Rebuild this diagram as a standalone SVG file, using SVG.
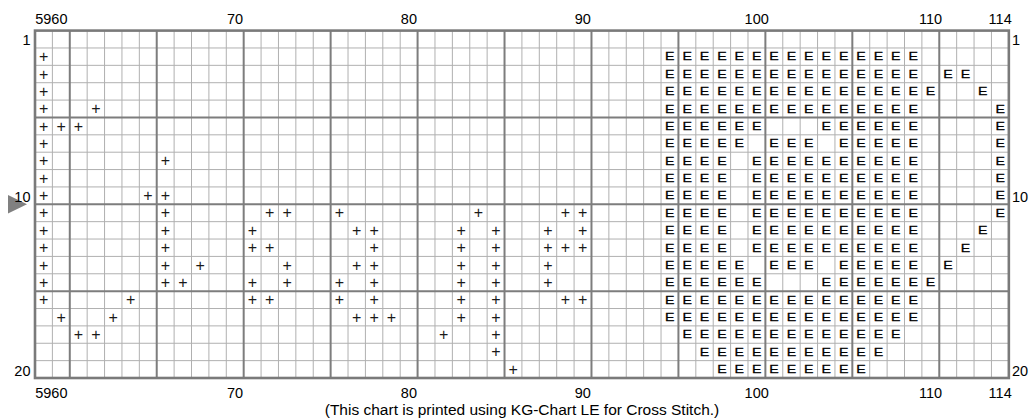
<svg xmlns="http://www.w3.org/2000/svg" width="1030" height="418" viewBox="0 0 1030 418">
<style>
.thin{stroke:#b0b0b0;stroke-width:1;fill:none}
.thick{stroke:#7d7d7d;stroke-width:2;fill:none}
.border{stroke:#7a7a7a;stroke-width:2.6;fill:none}
.lbl{font-family:"Liberation Sans",Arial,sans-serif;font-size:14.5px;fill:#000}
.mid{text-anchor:middle}
.end{text-anchor:end}
.plus{font-family:"Liberation Sans",Arial,sans-serif;font-size:16px;fill:#1a1a1a;text-anchor:middle}
.e{font-family:"Liberation Sans",Arial,sans-serif;font-size:10.5px;fill:#000;stroke:#000;stroke-width:0.25;text-anchor:middle}
.cap{font-family:"Liberation Sans",Arial,sans-serif;font-size:15.5px;fill:#000;text-anchor:middle}
</style>
<rect width="1030" height="418" fill="#fff"/>
<g id="grid">
<path class="thin" d="M52.39 30.6V378M87.17 30.6V378M104.56 30.6V378M121.95 30.6V378M139.34 30.6V378M174.12 30.6V378M191.51 30.6V378M208.9 30.6V378M226.29 30.6V378M261.07 30.6V378M278.46 30.6V378M295.85 30.6V378M313.24 30.6V378M348.02 30.6V378M365.41 30.6V378M382.8 30.6V378M400.19 30.6V378M434.97 30.6V378M452.36 30.6V378M469.75 30.6V378M487.14 30.6V378M521.92 30.6V378M539.31 30.6V378M556.7 30.6V378M574.09 30.6V378M608.87 30.6V378M626.26 30.6V378M643.65 30.6V378M661.04 30.6V378M695.82 30.6V378M713.21 30.6V378M730.6 30.6V378M747.99 30.6V378M782.77 30.6V378M800.16 30.6V378M817.55 30.6V378M834.94 30.6V378M869.72 30.6V378M887.11 30.6V378M904.5 30.6V378M921.89 30.6V378M956.67 30.6V378M974.06 30.6V378M991.45 30.6V378
M35 47.97H1008.84M35 65.34H1008.84M35 82.71H1008.84M35 100.08H1008.84M35 134.82H1008.84M35 152.19H1008.84M35 169.56H1008.84M35 186.93H1008.84M35 221.67H1008.84M35 239.04H1008.84M35 256.41H1008.84M35 273.78H1008.84M35 308.52H1008.84M35 325.89H1008.84M35 343.26H1008.84M35 360.63H1008.84"/>
<path class="thick" d="M69.78 30.6V378M156.73 30.6V378M243.68 30.6V378M330.63 30.6V378M417.58 30.6V378M504.53 30.6V378M591.48 30.6V378M678.43 30.6V378M765.38 30.6V378M852.33 30.6V378M939.28 30.6V378M35 117.45H1008.84M35 204.3H1008.84M35 291.15H1008.84"/>
<rect class="border" x="35" y="30.6" width="973.84" height="347.4"/>
</g>
<g id="plus-symbols" class="plus">
<text x="43.7" y="62.16">+</text>
<text x="43.7" y="79.53">+</text>
<text x="43.7" y="96.9">+</text>
<text x="43.7 95.86" y="114.27">++</text>
<text x="43.7 61.08 78.47" y="131.64">+++</text>
<text x="43.7" y="149.01">+</text>
<text x="43.7 165.42" y="166.38">++</text>
<text x="43.7" y="183.75">+</text>
<text x="43.7 148.03 165.42" y="201.12">+++</text>
<text x="43.7 165.42 269.77 287.16 339.33 478.45 565.4 582.79" y="218.49">++++++++</text>
<text x="43.7 165.42 252.38 356.72 374.11 461.06 495.84 548.01 582.79" y="235.86">+++++++++</text>
<text x="43.7 165.42 252.38 269.77 374.11 461.06 495.84 548.01 565.4 582.79" y="253.23">++++++++++</text>
<text x="43.7 165.42 200.2 287.16 356.72 374.11 461.06 495.84 548.01" y="270.6">+++++++++</text>
<text x="43.7 165.42 182.81 252.38 287.16 339.33 374.11 461.06 495.84 548.01" y="287.97">++++++++++</text>
<text x="43.7 130.64 252.38 269.77 339.33 374.11 461.06 495.84 565.4 582.79" y="305.34">++++++++++</text>
<text x="61.08 113.25 356.72 374.11 391.5 461.06 495.84" y="322.71">+++++++</text>
<text x="78.47 95.86 443.67 495.84" y="340.08">++++</text>
<text x="495.84" y="357.45">+</text>
<text x="513.23" y="374.82">+</text>
</g>
<g id="e-symbols" class="e" transform="translate(669.74 0.3) scale(1.35 1)">
<text x="0 12.88 25.76 38.64 51.53 64.41 77.29 90.17 103.05 115.93 128.81 141.7 154.58 167.46 180.34" y="60.16">EEEEEEEEEEEEEEE</text>
<text x="0 12.88 25.76 38.64 51.53 64.41 77.29 90.17 103.05 115.93 128.81 141.7 154.58 167.46 180.34 206.1 218.99" y="77.53">EEEEEEEEEEEEEEEEE</text>
<text x="0 12.88 25.76 38.64 51.53 64.41 77.29 90.17 103.05 115.93 128.81 141.7 154.58 167.46 180.34 193.22 231.87" y="94.9">EEEEEEEEEEEEEEEEE</text>
<text x="0 12.88 25.76 38.64 51.53 64.41 77.29 90.17 103.05 115.93 128.81 141.7 154.58 167.46 180.34 244.75" y="112.27">EEEEEEEEEEEEEEEE</text>
<text x="0 12.88 25.76 38.64 51.53 64.41 115.93 128.81 141.7 154.58 167.46 180.34 244.75" y="129.64">EEEEEEEEEEEEE</text>
<text x="0 12.88 25.76 38.64 51.53 77.29 90.17 103.05 128.81 141.7 154.58 167.46 180.34 244.75" y="147.01">EEEEEEEEEEEEEE</text>
<text x="0 12.88 25.76 38.64 64.41 77.29 90.17 103.05 115.93 128.81 141.7 154.58 167.46 180.34 244.75" y="164.38">EEEEEEEEEEEEEEE</text>
<text x="0 12.88 25.76 38.64 64.41 77.29 90.17 103.05 115.93 128.81 141.7 154.58 167.46 180.34 244.75" y="181.75">EEEEEEEEEEEEEEE</text>
<text x="0 12.88 25.76 38.64 64.41 77.29 90.17 103.05 115.93 128.81 141.7 154.58 167.46 180.34 244.75" y="199.12">EEEEEEEEEEEEEEE</text>
<text x="0 12.88 25.76 38.64 64.41 77.29 90.17 103.05 115.93 128.81 141.7 154.58 167.46 180.34 244.75" y="216.49">EEEEEEEEEEEEEEE</text>
<text x="0 12.88 25.76 38.64 64.41 77.29 90.17 103.05 115.93 128.81 141.7 154.58 167.46 180.34 231.87" y="233.86">EEEEEEEEEEEEEEE</text>
<text x="0 12.88 25.76 38.64 64.41 77.29 90.17 103.05 115.93 128.81 141.7 154.58 167.46 180.34 218.99" y="251.23">EEEEEEEEEEEEEEE</text>
<text x="0 12.88 25.76 38.64 51.53 77.29 90.17 103.05 128.81 141.7 154.58 167.46 180.34 206.1" y="268.6">EEEEEEEEEEEEEE</text>
<text x="0 12.88 25.76 38.64 51.53 64.41 115.93 128.81 141.7 154.58 167.46 180.34 193.22" y="285.97">EEEEEEEEEEEEE</text>
<text x="0 12.88 25.76 38.64 51.53 64.41 77.29 90.17 103.05 115.93 128.81 141.7 154.58 167.46 180.34" y="303.34">EEEEEEEEEEEEEEE</text>
<text x="0 12.88 25.76 38.64 51.53 64.41 77.29 90.17 103.05 115.93 128.81 141.7 154.58 167.46 180.34" y="320.71">EEEEEEEEEEEEEEE</text>
<text x="12.88 25.76 38.64 51.53 64.41 77.29 90.17 103.05 115.93 128.81 141.7 154.58 167.46" y="338.08">EEEEEEEEEEEEE</text>
<text x="25.76 38.64 51.53 64.41 77.29 90.17 103.05 115.93 128.81 141.7 154.58" y="355.45">EEEEEEEEEEE</text>
<text x="38.64 51.53 64.41 77.29 90.17 103.05 115.93 128.81 141.7" y="372.82">EEEEEEEEE</text>
</g>
<g id="labels" class="lbl">
<text x="35.2" y="24">5960</text>
<text class="mid" x="234.99" y="24">70</text>
<text class="mid" x="408.89" y="24">80</text>
<text class="mid" x="582.79" y="24">90</text>
<text class="mid" x="756.69" y="24">100</text>
<text class="mid" x="930.59" y="24">110</text>
<text class="mid" x="1000.15" y="24">114</text>
<text x="35.2" y="398">5960</text>
<text class="mid" x="234.99" y="398">70</text>
<text class="mid" x="408.89" y="398">80</text>
<text class="mid" x="582.79" y="398">90</text>
<text class="mid" x="756.69" y="398">100</text>
<text class="mid" x="930.59" y="398">110</text>
<text class="mid" x="1000.15" y="398">114</text>
<polygon points="8,195 8,213.6 27,204.3" fill="#808080"/>
<text class="end" x="30.5" y="45.3">1</text>
<text class="end" x="30.5" y="202">10</text>
<text class="end" x="30.5" y="375.8">20</text>
<text x="1012" y="45.3">1</text>
<text x="1012" y="202">10</text>
<text x="1012" y="375.8">20</text>
</g>
<text class="cap" x="522" y="414.5">(This chart is printed using KG-Chart LE for Cross Stitch.)</text>
</svg>
